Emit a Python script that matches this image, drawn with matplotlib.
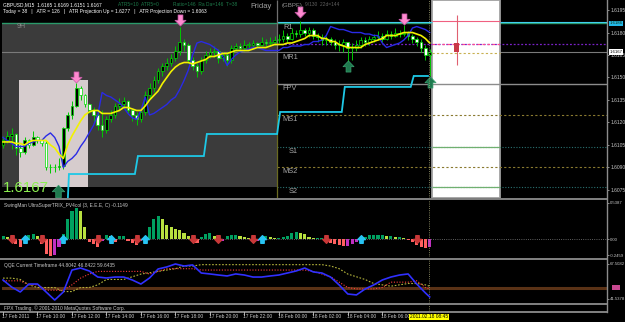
import matplotlib
matplotlib.use('Agg')
import matplotlib.pyplot as plt
import numpy as np
from matplotlib.path import Path
from matplotlib.patches import Rectangle
from matplotlib.lines import Line2D
from matplotlib.font_manager import findfont, FontProperties
import matplotlib.transforms as mtrans

# ---------------- data (prices stored as pips above 1.6000) ----------------
BASE = 1.6
PIP = 0.0001

bar_open = [105,108,111,112,103,100,108,105,110,108,
            106,90,90,90,91,116,125,131,143,138,
            132,128,125,118,115,122,125,131,132,134,
            128,125,122,127,138,143,148,154,158,160,
            163,168,174,172,162,158,154,162,165,167,
            168,163,165,162,170,171,170,172,172,173,
            172,174,173,174,175,176,178,176,180,179,
            182,180,182,178,177,175,176,174,172,172,
            174,170,170,172,175,174,176,177,178,176,
            179,178,180,179,180,178,176,174,170,165]
bar_high = [111,114,116,113,105,110,109,114,111,109,
            108,92,92,96,117,127,134,146,144,139,
            133,130,128,128,124,128,133,136,137,135,
            129,127,130,141,146,151,156,160,163,166,
            171,184,176,173,164,160,164,168,170,171,
            169,167,167,172,173,173,175,174,175,174,
            177,176,177,178,179,182,180,183,182,188,
            183,184,183,180,179,178,177,176,175,176,
            174,173,175,177,177,178,179,181,180,182,
            181,183,182,185,181,179,177,176,172,169]
bar_low = [103,106,102,98,97,99,103,104,106,104,
           88,86,87,88,89,114,122,130,135,130,
           126,121,115,110,113,120,123,128,130,126,
           121,118,120,125,136,140,146,151,155,158,
           161,165,168,160,155,150,152,160,163,164,
           160,161,158,160,168,167,168,169,170,170,
           171,171,172,172,173,174,174,175,177,177,
           178,177,176,174,172,172,172,169,168,167,
           160,162,168,170,171,172,174,175,174,175,
           176,177,177,178,175,173,171,167,162,151]
bar_close = [108,111,112,103,100,108,105,110,108,106,
             90,90,90,91,116,125,131,143,138,132,
             128,125,118,115,122,125,131,132,134,128,
             125,122,127,138,143,148,154,158,160,163,
             168,174,172,162,158,154,162,165,167,168,
             163,165,162,170,171,170,172,172,173,172,
             174,173,174,175,176,178,176,180,179,182,
             180,182,178,177,175,176,174,172,172,174,
             170,170,172,175,174,176,177,178,176,179,
             178,180,179,180,178,176,174,170,165,167]
ma_yellow = [107,107,107,106,106,105,107,108,108,108,
             108,105,103,99,96,105,111,116,121,125,
             127,128,128,126,126,126,127,128,130,130,
             129,128,128,131,135,138,141,146,150,154,
             157,159,160,160,159,160,161,162,164,164,
             165,166,166,167,168,168,168,168,169,170,
             170,170,171,172,172,172,173,173,174,175,
             176,178,178,178,176,176,174,174,172,171,
             170,170,170,170,172,173,174,175,176,178,
             178,178,179,180,180,180,179,178,176,173]
ma_blue = [110,108,106,104,104,104,106,107,108,108,
           111,113,110,104,90,94,96,99,104,108,
           113,118,125,140,138,137,135,133,130,126,
           123,122,128,137,125,126,128,130,132,135,
           137,142,148,155,165,173,174,173,172,170,
           168,164,158,162,165,167,168,169,170,170,
           169,168,168,168,168,170,170,171,171,171,
           172,172,174,174,175,178,184,183,182,182,
           181,180,180,180,179,179,178,178,173,170,
           171,172,173,175,178,183,184,183,182,180]

# cyan stepped line
step_start = [15, 31, 47, 64, 79, 95]
step_level = [85.6, 97.6, 112.3, 127.0, 143.7, 151.0]
step_floor = 66.0
step_end = 98.6

# pivot levels
level_names = ['R1', 'MR1', 'FPV', 'MS1', 'S1', 'MS2', 'S2']
level_values = [186.3, 166.3, 145.7, 125.0, 103.7, 90.3, 77.0]
level_label_bar = [65.0, 64.8, 64.8, 64.8, 66.2, 64.8, 66.2]
pivot_start_bar = 63.6
bid_price = 167.0
purple_level = 172.3

prevday_bars = (-0.3, 63.6)
prevday_range = (77.0, 186.3)
session_bars = (3.7, 19.7)
session_range = (77.0, 148.3)
future_bars = (99.5, 115.3)

day_bar = 105.3
day_open, day_high, day_low, day_close = 173.0, 191.7, 158.3, 167.0

pink_arrow_bars = [17, 41, 69, 93]
pink_arrow_price = [150.3, 188.5, 194.0, 189.0]
green_arrow_bars = [80, 99]
green_arrow_price = [158.0, 147.0]

trix_values = [
    0.045, 0.03, -0.045, -0.075, -0.12, 0.03, 0.06, 0.075, 0.045, -0.075,
    -0.225, -0.26, -0.24, -0.12, 0.075, 0.30, 0.42, 0.465, 0.42, 0.18,
    -0.045, -0.075, -0.12, -0.03, 0.06, 0.045, -0.045, 0.045, 0.045, -0.03,
    -0.06, -0.09, -0.03, 0.045, 0.18, 0.30, 0.345, 0.30, 0.21, 0.18,
    0.15, 0.135, 0.09, 0.045, -0.045, -0.06, 0.03, 0.075, 0.09, 0.045,
    -0.045, -0.03, 0.045, 0.06, 0.06, 0.045, 0.03, 0.015, -0.045, -0.03,
    0.03, 0.045, 0.03, 0.015, 0.015, 0.03, 0.045, 0.09, 0.105, 0.09,
    0.075, 0.03, 0.015, 0.015, 0.015, -0.03, -0.06, -0.075, -0.09, -0.105,
    -0.105, -0.075, -0.045, -0.015, 0.03, 0.06, 0.06, 0.06, 0.06, 0.045,
    0.045, 0.03, 0.03, 0.015, -0.015, -0.045, -0.09, -0.12, -0.135, -0.12]
trix_down_bars = [2, 9, 22, 31, 44, 50, 58, 75, 96]
trix_up_bars = [5, 14, 25, 33, 60, 83]

qqe_bars = list(range(0, 100, 2)) + [99]
qqe_blue = [55.6, 50.4, 46.7, 52.6, 52.6, 46.7, 40.7, 46.7, 63.0, 64.5,
            62.3, 57.8, 57.1, 57.8, 57.8, 55.6, 52.6, 57.1, 63.8, 65.3,
            67.5, 66.0, 66.8, 60.8, 60.1, 59.3, 58.6, 60.1, 59.3, 57.8,
            57.8, 58.6, 59.3, 60.8, 62.3, 64.5, 61.6, 60.8, 57.8, 51.9,
            45.2, 44.5, 48.9, 51.9, 55.6, 57.8, 59.3, 60.1, 52.6, 46.0, 43.0]
qqe_red = [55, 55, 55, 52, 52, 48, 48, 48, 52, 57,
           60, 62, 62, 62, 62, 62, 62, 60, 62, 64,
           64, 64, 64, 63, 63, 63, 63, 63, 63, 63,
           63, 63, 63, 63, 63, 63, 62, 60, 58, 54,
           50, 49, 49, 49, 50, 54, 54, 54, 55, 50, 49]
qqe_olive = [57, 57, 56, 52, 50, 50, 50, 47, 47, 50,
             50, 52, 56, 56, 56, 58, 60, 61, 62, 63,
             64, 66, 66, 67, 67, 67, 67, 67, 67, 67,
             67, 67, 67, 67, 67, 67, 67, 67, 66, 64,
             60, 58, 56, 53, 52, 51, 52, 53, 53, 52, 51]
qqe_level = 50.0

time_tick_bars = [0, 8, 16, 24, 32, 40, 48, 56, 64, 72, 80, 88]
time_tick_labels = ['17 Feb 2011', '17 Feb 10:00', '17 Feb 12:00', '17 Feb 14:00',
                    '17 Feb 16:00', '17 Feb 18:00', '17 Feb 20:00', '17 Feb 22:00',
                    '18 Feb 00:00', '18 Feb 02:00', '18 Feb 04:00', '18 Feb 06:00']
cursor_bar = 98.8
cursor_label = '2011.02.18 08:45'

price_ticks = [195, 180, 165, 150, 135, 120, 105, 90, 75]
trix_ticks = [0.5387, 0.0, -0.2459]
trix_tick_labels = ['0.5387', '0.00', '-0.2459']
qqe_ticks = [67.5082, 41.5378]

for arr in (bar_open, bar_high, bar_low, bar_close, ma_yellow, ma_blue, trix_values):
    assert len(arr) == 100, len(arr)
assert len(qqe_blue) == len(qqe_bars) == len(qqe_red) == len(qqe_olive)


def P(a):
    return BASE + np.asarray(a, dtype=float) * PIP


# ---------------- fonts ----------------
def pick_font():
    for fam in ['Liberation Sans Narrow', 'Liberation Sans']:
        try:
            findfont(FontProperties(family=fam), fallback_to_default=False)
            return fam
        except Exception:
            pass
    return 'DejaVu Sans'

FAM = pick_font()
SM = 4.1 if 'Narrow' in FAM else 3.5
SMR = 3.7 if 'Narrow' in FAM else 3.1
plt.rcParams['font.family'] = [FAM, 'DejaVu Sans']

W, H = 625, 322
XL = (-0.232, 140.14)
fig = plt.figure(figsize=(W / 100, H / 100), dpi=100, facecolor='black')


def pax(x0, y0, x1, y1, lsize=SM):
    ax = fig.add_axes([x0 / W, 1 - y1 / H, (x1 - x0) / W, (y1 - y0) / H])
    ax.set_facecolor('black')
    for s in ax.spines.values():
        s.set_visible(False)
    ax.set_xlim(XL)
    ax.set_xticks([])
    ax.yaxis.tick_right()
    ax.tick_params(axis='y', colors='#c8c8c8', labelsize=lsize, length=1.5, width=0.5, pad=0.8)
    return ax


def ftxt(x, y, s, **kw):
    kw.setdefault('fontsize', SM)
    kw.setdefault('color', 'white')
    fig.text(x / W, 1 - y / H, s, va='center', ha=kw.pop('ha', 'left'), **kw)


def arrow_path(up=False):
    v = [(-0.22, 0.5), (0.22, 0.5), (0.22, 0.02), (0.5, 0.02), (0.0, -0.5),
         (-0.5, 0.02), (-0.22, 0.02), (-0.22, 0.5)]
    if up:
        v = [(x, -y) for x, y in v]
    return Path(v, closed=True)

DOWN = arrow_path(False)
UP = arrow_path(True)

x = np.arange(100)
o, h, l, c = map(np.asarray, (bar_open, bar_high, bar_low, bar_close))

# ---------------- main chart ----------------
ax = pax(2, 0, 607, 198)
ax.set_ylim(P(69.6), P(201.7))
ax.set_yticks(P(price_ticks))
ax.set_yticklabels([f'{v:.4f}' for v in P(price_ticks)])

ax.add_patch(Rectangle((prevday_bars[0], P(prevday_range[0])), prevday_bars[1] - prevday_bars[0],
                       (prevday_range[1] - prevday_range[0]) * PIP, fc='#3b3b3b', ec='none', zorder=0))
ax.add_patch(Rectangle((session_bars[0], P(session_range[0])), session_bars[1] - session_bars[0],
                       (session_range[1] - session_range[0]) * PIP, fc='#d6cccd', ec='none', zorder=1))
ylo, yhi = ax.get_ylim()
ax.add_patch(Rectangle((future_bars[0], ylo), future_bars[1] - future_bars[0], yhi - ylo,
                       fc='white', ec='#a0a0a0', lw=1.3, zorder=1))

# horizontal levels
lv = dict(zip(level_names, level_values))
ax.axhline(P(lv['R1']), color='#2a9a6a', lw=1.0, zorder=0.5)
for a, b in ((pivot_start_bar, future_bars[0]), (future_bars[1], XL[1])):
    ax.hlines(P(lv['R1'] + 0.8), a, b, color='#40d0f0', lw=0.8, zorder=2)
ax.hlines(P(lv['R1'] + 1.2), future_bars[0], future_bars[1], color='#f06080', lw=0.8, zorder=2)
ax.axhline(P(bid_price), color='#7a7a7a', lw=0.8, zorder=0.5)
ax.hlines(P(purple_level), pivot_start_bar, XL[1], color='#7a22c8', lw=0.9, ls=(0, (1.5, 1.5)), zorder=2)
ax.hlines(P(purple_level), future_bars[0], future_bars[1], color='#ff4a90', lw=0.9, ls=(0, (2, 2)), zorder=2)
ax.hlines(P(lv['MR1']), future_bars[0], future_bars[1], color='#c8b050', lw=0.8, ls=(0, (2, 2)), zorder=2)
ax.hlines(P(lv['FPV']), pivot_start_bar, XL[1], color='#8c8c8c', lw=1.0, zorder=2)
for nm in ('MS1', 'MS2'):
    ax.hlines(P(lv[nm]), pivot_start_bar, XL[1], color='#8a7a30', lw=0.8, ls=(0, (2, 2)), zorder=2)
for nm in ('S1', 'S2'):
    ax.hlines(P(lv[nm]), pivot_start_bar, XL[1], color='#2a7070', lw=0.8, ls=(0, (1, 1.5)), zorder=2)
    ax.hlines(P(lv[nm]), future_bars[0], future_bars[1], color='#70b070', lw=0.9, zorder=2)
ax.vlines(pivot_start_bar, P(lv['FPV']), yhi, color='#707070', lw=0.9, zorder=2)
ax.vlines(pivot_start_bar, ylo, P(lv['FPV']), color='#6a6a20', lw=0.9, zorder=2)
for nm, b in zip(level_names, level_label_bar):
    ax.text(b, P(lv[nm] - 0.6), nm, color='#a8a8a8', fontsize=5.3, va='top', ha='left',
            family='Liberation Sans', zorder=3)

# cyan step line
sx, sy = [step_start[0]], [step_floor]
prev = None
for s, lev in zip(step_start, step_level):
    if prev is not None:
        sx.append(s - 0.4)
        sy.append(prev)
    sx.append(s + 0.3)
    sy.append(lev)
    prev = lev
sx.append(step_end)
sy.append(prev)
ax.plot(sx, P(sy), color='#1ec8e6', lw=1.3, zorder=3, solid_joinstyle='miter')

# daily candle in the future box
ax.vlines(day_bar, P(day_low), P(day_high), color='#e06070', lw=0.8, zorder=3)
ax.add_patch(Rectangle((day_bar - 0.6, P(min(day_open, day_close))), 1.2,
                       abs(day_open - day_close) * PIP, fc='#c83848', ec='none', zorder=3))

# candles
ax.vlines(x, P(l), P(h), color='#00c800', lw=0.7, zorder=4)
bull = c >= o
body_lo = np.minimum(o, c)
body_h = np.maximum(np.abs(c - o), 0.5)
ax.bar(x, body_h * PIP, bottom=P(body_lo), width=0.62,
       color=np.where(bull, 'black', 'white'), edgecolor='#00e000', linewidth=0.5, zorder=4)

# moving averages
ax.plot(x, P(ma_blue), color='#2a2ae6', lw=1.0, zorder=5)
ax.plot(x, P(ma_yellow), color='#f2f200', lw=1.2, zorder=5)

# arrows
ax.plot(pink_arrow_bars, P(pink_arrow_price), ls='none', marker=DOWN, ms=8,
        mfc='#ff8ad0', mec='#c85aa8', mew=0.5, zorder=6)
ax.plot(green_arrow_bars, P(green_arrow_price), ls='none', marker=UP, ms=8,
        mfc='#1f7a4f', mec='#3aa070', mew=0.5, zorder=6)
ax.plot([0.093], [0.035], transform=ax.transAxes, ls='none', marker=UP, ms=9,
        mfc='#1f7a4f', mec='#3aa070', mew=0.5, zorder=6)

# cursor
ax.axvline(cursor_bar, color='#a8a878', ls=':', lw=0.6, zorder=6)

# price boxes on axis
bt = mtrans.blended_transform_factory(ax.transAxes, ax.transData)
ax.text(1.004, P(lv['R1']), f'{P(lv["R1"]):.4f}', transform=bt, fontsize=SMR, color='#103010',
        va='center', ha='left', bbox=dict(fc='#22b8e8', ec='none', pad=0.4), zorder=7, clip_on=False)
ax.text(1.004, P(bid_price), f'{P(bid_price):.4f}', transform=bt, fontsize=SMR, color='black',
        va='center', ha='left', bbox=dict(fc='white', ec='none', pad=0.4), zorder=7, clip_on=False)

# big price text
ax.text(0.002, 0.05, f'{P(bar_close[-1]):.4f}', transform=ax.transAxes, fontsize=10.8,
        color='#8cf050', family='Liberation Sans', va='center', ha='left', zorder=6)

# ---------------- TRIX pane ----------------
tx = pax(2, 200, 607, 257, SMR)
tx.set_ylim(-0.269, 0.583)
tv = np.asarray(trix_values)
cols = []
for i, v in enumerate(tv):
    pv = tv[i - 1] if i > 0 else v
    if v >= 0:
        cols.append('#00a060' if v >= pv else '#b8e040')
    else:
        cols.append('#ff6060' if v < pv else '#c030c0')
tx.axhline(0, color='#808080', ls=':', lw=0.6, zorder=1)
tx.bar(x, tv, width=0.72, color=cols, zorder=2)
tx.plot(trix_down_bars, [0] * len(trix_down_bars), ls='none', marker=DOWN, ms=5.5,
        mfc='#c83838', mec='#c83838', zorder=3)
tx.plot(trix_up_bars, [0] * len(trix_up_bars), ls='none', marker=UP, ms=5.5,
        mfc='#28c4f4', mec='#28c4f4', zorder=3)
tx.set_yticks(trix_ticks)
tx.set_yticklabels(trix_tick_labels)
tx.axvline(cursor_bar, color='#a8a878', ls=':', lw=0.6)

# ---------------- QQE pane ----------------
qx = pax(2, 259.5, 607, 303, SMR)
qx.set_ylim(38.5, 70.84)
qx.axhline(qqe_level, color='#5a3216', lw=2.2, zorder=1)
qx.plot(qqe_bars, qqe_olive, color='#b4b43c', lw=0.8, ls=(0, (1.5, 1.5)), zorder=2)
qx.plot(qqe_bars, qqe_red, color='#ff3b3b', lw=0.8, ls=(0, (1, 1.5)), zorder=2)
qx.plot(qqe_bars, qqe_blue, color='#3030ff', lw=1.2, zorder=3)
qx.set_yticks(qqe_ticks)
qx.set_yticklabels([f'{v:.4f}' for v in qqe_ticks])
qx.axvline(cursor_bar, color='#a8a878', ls=':', lw=0.6)
qbt = mtrans.blended_transform_factory(qx.transAxes, qx.transData)
qx.add_patch(Rectangle((1.008, qqe_level - 1.9), 0.013, 3.8, transform=qbt, fc='#c84890',
                       ec='none', clip_on=False))

# ---------------- footer pane ----------------
fx = pax(2, 305, 607, 311)
fx.set_ylim(0, 1)
fx.set_yticks([])
fx.axvline(cursor_bar, color='#a8a878', ls=':', lw=0.6)

# ---------------- texts ----------------
ftxt(3, 5, 'GBPUSD,M15  1.6165 1.6169 1.6151 1.6167')
ftxt(3, 11.5, 'Today = 38   |   ATR = 126   |   ATR Projection Up = 1.6277   |   ATR Projection Down = 1.6063')
ftxt(118, 5, 'ATR5=10  ATR5=0', color='#1d7a4a')
ftxt(173, 5, 'Ratio=146  Ra Da=146  T=38', color='#1d7a4a')
ftxt(250, 6, 'Friday', color='#a0a0a0', fontsize=5.5, family='Liberation Sans')
ftxt(282, 6, '(GBPF)', color='#909090', fontsize=4.4, family='Liberation Sans')
ftxt(305, 5, '9/130  22d=144', color='#606060')
ftxt(17, 27, '9H', color='#8a8a8a', fontsize=5)
ftxt(4, 205, 'SwingMan UltraSuperTRIX_PV4col (3, E.E.E, C) -0.1149', color='#c8c8c8')
ftxt(4, 265, 'QQE Current Timeframe 44.8042 46.8422 59.6435', color='#c8c8c8')
ftxt(4, 308, 'FPX Trading, \u00a9 2001-2010 MetaQuotes Software Corp.', color='#c8c8c8')

# separators and right border
for yy in (199, 258.5, 304, 312):
    fig.add_artist(Line2D([0, 607 / W], [1 - yy / H] * 2, color='#8c8c8c', lw=1.3))
fig.add_artist(Line2D([607 / W] * 2, [1 - 312 / H, 1], color='#8c8c8c', lw=1.0))

# time axis
tt = mtrans.blended_transform_factory(fx.transData, fig.transFigure)
for b, lab in zip(time_tick_bars, time_tick_labels):
    fig.text(b - 0.3, 1 - 317 / H, lab, transform=tt, fontsize=SM, color='#c8c8c8',
             va='center', ha='left', zorder=2)
    fig.add_artist(Line2D([b, b], [1 - 312 / H, 1 - 314.5 / H], transform=tt, color='#c8c8c8', lw=0.6))
fig.text(cursor_bar, 1 - 317 / H, cursor_label, transform=tt, fontsize=SM, color='black',
         va='center', ha='center', zorder=5, bbox=dict(fc='#ffff00', ec='none', pad=0.6))

fig.savefig('out.png', dpi=100, facecolor='black')
